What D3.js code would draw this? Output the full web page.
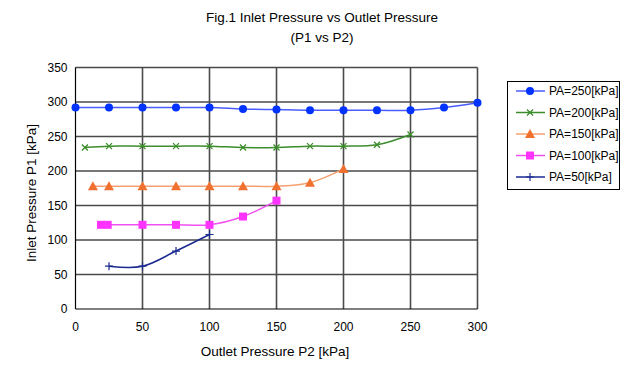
<!DOCTYPE html>
<html>
<head>
<meta charset="utf-8">
<script src="https://cdn.jsdelivr.net/npm/d3@7"></script>
<style>
  body { margin: 0; background: #fff; }
  text { font-family: "Liberation Sans", Arial, sans-serif; fill: #000; }
</style>
</head>
<body>
<svg id="chart" width="644" height="386"></svg>
<script>
// Data (x = outlet P2, y = inlet P1, kPa)
const pa250X = [0, 25, 50, 75, 100, 125, 150, 175, 200, 225, 250, 275, 300];
const pa250Y = [292, 292, 292, 292, 292, 290, 289, 288, 288, 288, 288, 292, 299];
const pa200X = [7, 25, 50, 75, 100, 125, 150, 175, 200, 225, 250];
const pa200Y = [234, 236, 236, 236, 236, 234, 234, 236, 236, 238, 253];
const pa150X = [13, 25, 50, 75, 100, 125, 150, 175, 200];
const pa150Y = [178, 178, 178, 178, 178, 178, 178, 183, 203];
const pa100X = [19, 24, 50, 75, 100, 125, 150];
const pa100Y = [122, 122, 122, 122, 122, 134, 157];
const pa50X = [25, 50, 75, 100];
const pa50Y = [62, 62, 84, 108];

const seriesNames = ["PA=250[kPa]", "PA=200[kPa]", "PA=150[kPa]", "PA=100[kPa]", "PA=50[kPa]"];
const xTicks = [0, 50, 100, 150, 200, 250, 300];
const yTicks = [0, 50, 100, 150, 200, 250, 300, 350];

const series = [
  {name: seriesNames[0], xs: pa250X, ys: pa250Y, line: "#4a5cff", mark: "#0033ff", shape: "circle"},
  {name: seriesNames[1], xs: pa200X, ys: pa200Y, line: "#3c8c2c", mark: "#3c8c2c", shape: "x"},
  {name: seriesNames[2], xs: pa150X, ys: pa150Y, line: "#f5a070", mark: "#f07030", shape: "tri"},
  {name: seriesNames[3], xs: pa100X, ys: pa100Y, line: "#f050f0", mark: "#ff33ff", shape: "square"},
  {name: seriesNames[4], xs: pa50X, ys: pa50Y, line: "#1a2a90", mark: "#1a2a90", shape: "plus"}
];

const svg = d3.select("#chart");
const plotL = 75.5, plotR = 477.5, plotT = 67.5, plotB = 309;

const x = d3.scaleLinear().domain([0, 300]).range([plotL, plotR]);
const y = d3.scaleLinear().domain([0, 350]).range([plotB, plotT]);

// grid
const grid = svg.append("g");
grid.selectAll("line.v").data(xTicks.slice(1)).join("line")
  .attr("x1", d => x(d)).attr("x2", d => x(d))
  .attr("y1", plotT).attr("y2", plotB)
  .attr("stroke", "#4a4a4a").attr("stroke-width", 1.6);
grid.selectAll("line.h").data(yTicks.slice(1)).join("line")
  .attr("y1", d => y(d)).attr("y2", d => y(d))
  .attr("x1", plotL).attr("x2", plotR)
  .attr("stroke", "#4a4a4a").attr("stroke-width", 1.6);

// axes lines
svg.append("line").attr("x1", plotL).attr("x2", plotL).attr("y1", plotT).attr("y2", plotB)
  .attr("stroke", "#000").attr("stroke-width", 1.2);
svg.append("line").attr("x1", plotL).attr("x2", plotR).attr("y1", plotB).attr("y2", plotB)
  .attr("stroke", "#000").attr("stroke-width", 1.2);

// tick labels
svg.append("g").selectAll("text").data(xTicks).join("text")
  .attr("x", d => x(d)).attr("y", plotB + 22)
  .attr("text-anchor", "middle").attr("font-size", 12)
  .text(d => d);
svg.append("g").selectAll("text").data(yTicks).join("text")
  .attr("x", plotL - 8).attr("y", d => y(d) + 4)
  .attr("text-anchor", "end").attr("font-size", 12)
  .text(d => d);

// titles
svg.append("text").attr("x", 322).attr("y", 22).attr("text-anchor", "middle")
  .attr("font-size", 13.5).text("Fig.1 Inlet Pressure vs Outlet Pressure");
svg.append("text").attr("x", 322).attr("y", 42).attr("text-anchor", "middle")
  .attr("font-size", 13.5).text("(P1 vs P2)");
svg.append("text").attr("x", 275).attr("y", 356).attr("text-anchor", "middle")
  .attr("font-size", 13.5).text("Outlet Pressure P2 [kPa]");
svg.append("text").attr("transform", "translate(36,193) rotate(-90)")
  .attr("text-anchor", "middle").attr("font-size", 13.5).text("Inlet Pressure P1 [kPa]");

// marker drawing
function drawMarker(g, shape, color) {
  if (shape === "circle") {
    g.append("circle").attr("r", 4).attr("fill", color);
  } else if (shape === "square") {
    g.append("rect").attr("x", -4).attr("y", -4).attr("width", 8).attr("height", 8).attr("fill", color);
  } else if (shape === "tri") {
    g.append("path").attr("d", "M0,-5L5,4L-5,4Z").attr("fill", color);
  } else if (shape === "x") {
    g.append("path").attr("d", "M-3,-3L3,3M-3,3L3,-3").attr("stroke", color).attr("stroke-width", 1.3);
  } else if (shape === "plus") {
    g.append("path").attr("d", "M-4,0L4,0M0,-4L0,4").attr("stroke", color).attr("stroke-width", 1.2);
  }
}

const line = d3.line().x(d => x(d[0])).y(d => y(d[1])).curve(d3.curveCatmullRom.alpha(0.5));

series.forEach(s => {
  const pts = s.xs.map((v, i) => [v, s.ys[i]]);
  svg.append("path").datum(pts).attr("d", line)
    .attr("fill", "none").attr("stroke", s.line).attr("stroke-width", 1.5);
  pts.forEach(p => {
    const g = svg.append("g").attr("transform", `translate(${x(p[0])},${y(p[1])})`);
    drawMarker(g, s.shape, s.mark);
  });
});

// legend
const lg = svg.append("g");
lg.append("rect").attr("x", 507.5).attr("y", 81.5).attr("width", 112).attr("height", 108)
  .attr("fill", "#fff").attr("stroke", "#000").attr("stroke-width", 1);
series.forEach((s, i) => {
  const yy = 91 + i * 21.5;
  lg.append("line").attr("x1", 516).attr("x2", 545).attr("y1", yy).attr("y2", yy)
    .attr("stroke", s.line).attr("stroke-width", 1.5);
  const g = lg.append("g").attr("transform", `translate(530,${yy})`);
  drawMarker(g, s.shape, s.mark);
  lg.append("text").attr("x", 549).attr("y", yy + 4).attr("font-size", 12).text(s.name);
});
</script>
</body>
</html>
